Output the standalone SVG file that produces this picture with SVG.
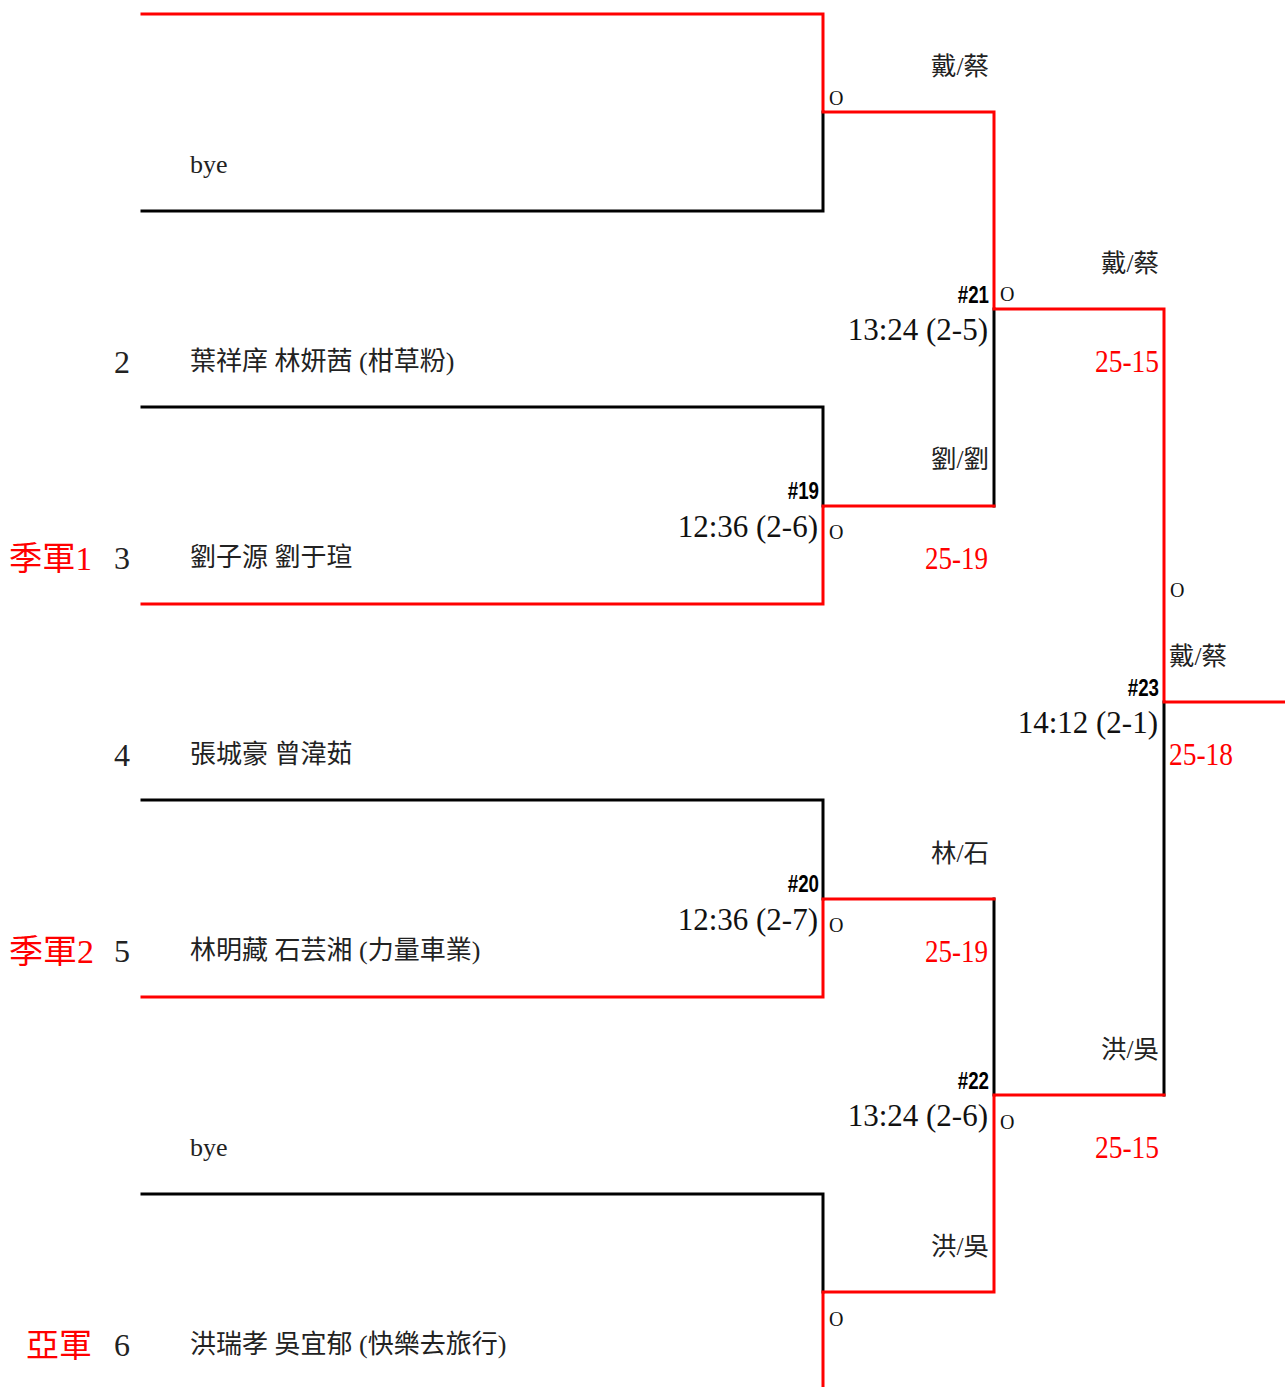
<svg xmlns="http://www.w3.org/2000/svg" width="1285" height="1387" viewBox="0 0 1285 1387">
<style>
.ln{fill:none;stroke-width:3;stroke-linejoin:miter;stroke-linecap:square}
.bk{stroke:#000}
.rd{stroke:#ff0000}
.nm{font-family:"Liberation Serif","Noto Sans CJK TC",serif;font-size:26px;fill:#222}
.sd{font-family:"Liberation Serif",serif;font-size:32px;fill:#222}
.aw{font-family:"Liberation Serif","Noto Sans CJK TC",serif;font-size:33px;fill:#ff0000}
.pr{font-family:"Liberation Serif","Noto Sans CJK TC",serif;font-size:25.5px;fill:#222;text-anchor:end}
.prl{font-family:"Liberation Serif","Noto Sans CJK TC",serif;font-size:25.5px;fill:#222}
.sc{font-family:"Liberation Serif",serif;font-size:32px;fill:#ff0000;text-anchor:end}
.scl{font-family:"Liberation Serif",serif;font-size:32px;fill:#ff0000}
.tm{font-family:"Liberation Serif",serif;font-size:31px;fill:#111;text-anchor:end}
.mn{font-family:"Liberation Sans",Arial,sans-serif;font-weight:bold;font-size:24px;fill:#000;text-anchor:end}
.o{font-family:"Liberation Serif",serif;font-size:20px;fill:#111}
</style>
<g id="connectors">
<path class="ln bk" d="M142,211 H823 V112"/>
<path class="ln bk" d="M142,407 H823 V506"/>
<path class="ln bk" d="M994,506 V309"/>
<path class="ln bk" d="M142,800 H823 V899"/>
<path class="ln bk" d="M994,899 V1095"/>
<path class="ln bk" d="M142,1194 H823 V1292"/>
<path class="ln bk" d="M1164,1095 V702"/>
<path class="ln rd" d="M142,14 H823 V112 H994 V309 H1164 V702 H1290"/>
<path class="ln rd" d="M142,604 H823 V506 H994"/>
<path class="ln rd" d="M142,997 H823 V899 H994"/>
<path class="ln rd" d="M823,1395 V1292 H994 V1095 H1164"/>
</g>
<g id="entry-1"><text class="nm" x="190" y="173">bye</text></g>
<g id="entry-2"><text class="sd" x="114" y="373">2</text><text class="nm" x="190" y="370">葉祥庠 林妍茜 (柑草粉)</text></g>
<g id="entry-3"><text class="aw" x="9" y="570" textLength="83" lengthAdjust="spacingAndGlyphs">季軍1</text><text class="sd" x="114" y="569">3</text><text class="nm" x="190" y="566">劉子源 劉于瑄</text></g>
<g id="entry-4"><text class="sd" x="114" y="766">4</text><text class="nm" x="190" y="763">張城豪 曾湋茹</text></g>
<g id="entry-5"><text class="aw" x="9" y="963" textLength="85" lengthAdjust="spacingAndGlyphs">季軍2</text><text class="sd" x="114" y="962">5</text><text class="nm" x="190" y="959">林明藏 石芸湘 (力量車業)</text></g>
<g id="entry-6"><text class="nm" x="190" y="1156">bye</text></g>
<g id="entry-7"><text class="aw" x="26" y="1357">亞軍</text><text class="sd" x="114" y="1356">6</text><text class="nm" x="190" y="1353">洪瑞孝 吳宜郁 (快樂去旅行)</text></g>
<g id="match-r1-top"><text class="o" x="829" y="105">O</text><text class="pr" x="989" y="75">戴/蔡</text></g>
<g id="match-19"><text class="mn" transform="translate(819,499) scale(0.78,1)">#19</text><text class="tm" x="818" y="537">12:36 (2-6)</text><text class="o" x="829" y="539">O</text><text class="pr" x="989" y="468">劉/劉</text><text class="sc" x="988" y="569" textLength="63" lengthAdjust="spacingAndGlyphs">25-19</text></g>
<g id="match-21"><text class="mn" transform="translate(989,303) scale(0.78,1)">#21</text><text class="tm" x="988" y="340">13:24 (2-5)</text><text class="o" x="1000" y="301">O</text><text class="pr" x="1159" y="272">戴/蔡</text><text class="sc" x="1159" y="372" textLength="64" lengthAdjust="spacingAndGlyphs">25-15</text></g>
<g id="match-23"><text class="mn" transform="translate(1159,696) scale(0.78,1)">#23</text><text class="tm" x="1158" y="733">14:12 (2-1)</text><text class="o" x="1170" y="597">O</text><text class="prl" x="1169" y="665">戴/蔡</text><text class="scl" x="1169" y="765" textLength="64" lengthAdjust="spacingAndGlyphs">25-18</text></g>
<g id="match-20"><text class="mn" transform="translate(819,892) scale(0.78,1)">#20</text><text class="tm" x="818" y="930">12:36 (2-7)</text><text class="o" x="829" y="932">O</text><text class="pr" x="989" y="862">林/石</text><text class="sc" x="988" y="962" textLength="63" lengthAdjust="spacingAndGlyphs">25-19</text></g>
<g id="match-22"><text class="mn" transform="translate(989,1089) scale(0.78,1)">#22</text><text class="tm" x="988" y="1126">13:24 (2-6)</text><text class="o" x="1000" y="1129">O</text><text class="pr" x="1159" y="1058">洪/吳</text><text class="sc" x="1159" y="1158" textLength="64" lengthAdjust="spacingAndGlyphs">25-15</text></g>
<g id="match-r1-bottom"><text class="o" x="829" y="1326">O</text><text class="pr" x="989" y="1255">洪/吳</text></g>
</svg>
